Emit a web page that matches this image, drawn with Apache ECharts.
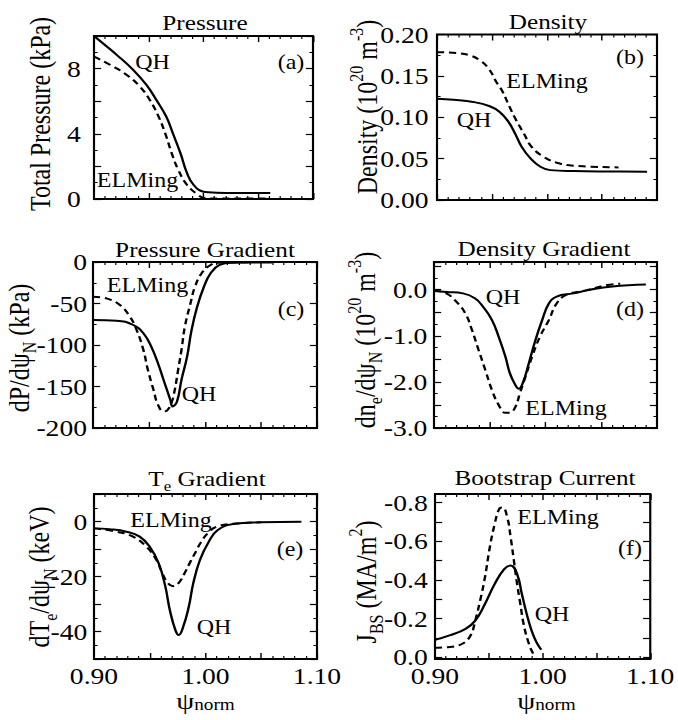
<!DOCTYPE html>
<html><head><meta charset="utf-8">
<script src="https://cdn.jsdelivr.net/npm/echarts@6/dist/echarts.min.js"></script>
<style>html,body{margin:0;padding:0;background:#fff;overflow:hidden}
#wrap{width:678px;height:720px;overflow:hidden}
#c{width:565px;height:720px;transform:scaleX(1.2);transform-origin:0 0}</style>
</head><body><div id="wrap"><div id="c"></div></div>
<script>
// ---------- data ----------
const xTickLabels = ['0.90', '1.00', '1.10'];
// (a) Pressure
const aPsiQH   = [0.900,0.910,0.921,0.936,0.948,0.957,0.966,0.972,0.979,0.985,0.991,1.000,1.012,1.030,1.061];
const aPresQH  = [10.0,9.45,8.83,7.91,6.99,6.07,5.05,4.03,2.80,1.58,0.86,0.45,0.39,0.37,0.37];
const aPsiELM  = [0.900,0.915,0.930,0.942,0.951,0.959,0.965,0.971,0.977,0.985,0.994,1.001,1.015,1.040,1.060];
const aPresELM = [8.73,8.22,7.61,6.89,6.07,5.05,4.03,2.80,1.78,0.86,0.31,0.06,0.03,0.03,0.03];
// (b) Density
const bPsiQH   = [0.900,0.915,0.933,0.948,0.957,0.965,0.971,0.977,0.985,0.994,1.003,1.024,1.060,1.091];
const bDenQH   = [0.1225,0.1212,0.1185,0.1133,0.1064,0.0944,0.0803,0.0642,0.0502,0.0402,0.0361,0.0349,0.0344,0.0341];
const bPsiELM  = [0.900,0.918,0.930,0.939,0.947,0.954,0.959,0.966,0.972,0.979,0.986,0.997,1.009,1.024,1.065];
const bDenELM  = [0.1787,0.1775,0.1747,0.1687,0.1587,0.1425,0.1325,0.1124,0.0964,0.0803,0.0642,0.0522,0.0450,0.0414,0.0394];
// (c) Pressure gradient
const cPsiQH   = [0.900,0.921,0.936,0.945,0.952,0.958,0.964,0.969,0.971,0.975,0.979,0.984,0.988,0.993,0.999,1.005,1.013,1.025,1.043,1.060];
const cGradQH  = [-70,-70.7,-75.9,-85.9,-102,-122,-146,-166,-174,-168,-142,-114,-82,-54,-30,-13.6,-3.6,-0.8,-0.5,-0.5];
const cPsiELM  = [0.900,0.912,0.924,0.933,0.939,0.945,0.949,0.954,0.958,0.963,0.966,0.970,0.973,0.976,0.979,0.982,0.987,0.991,0.997,1.005,1.013,1.040];
const cGradELM = [-41.8,-43.8,-51.8,-65.9,-82,-106,-130,-154,-172,-180,-179,-170,-154,-130,-106,-78,-50,-30,-13.6,-3.6,-0.8,-0.3];
// (d) Density gradient
const dPsiQH   = [0.900,0.911,0.926,0.937,0.944,0.952,0.958,0.964,0.968,0.973,0.976,0.980,0.985,0.991,0.997,1.003,1.010,1.025,1.040,1.060,1.090];
const dGradQH  = [-0.03,-0.05,-0.08,-0.19,-0.37,-0.66,-1.02,-1.45,-1.81,-2.07,-2.15,-2.00,-1.60,-1.09,-0.66,-0.30,-0.15,-0.08,0.00,0.07,0.11];
const dPsiELM  = [0.900,0.911,0.920,0.928,0.934,0.940,0.946,0.952,0.958,0.964,0.968,0.973,0.977,0.982,0.988,0.995,1.003,1.010,1.019,1.037,1.055,1.067];
const dGradELM = [-0.02,-0.08,-0.26,-0.51,-0.87,-1.31,-1.74,-2.18,-2.50,-2.67,-2.67,-2.54,-2.25,-1.89,-1.45,-1.02,-0.66,-0.30,-0.11,-0.01,0.10,0.13];
// (e) Te gradient
const ePsiQH   = [0.900,0.914,0.929,0.941,0.950,0.958,0.964,0.968,0.973,0.976,0.980,0.985,0.989,0.995,1.003,1.011,1.025,1.049,1.086];
const eGradQH  = [-2.5,-2.8,-3.7,-5.5,-9.2,-15.2,-23.7,-32.2,-39.5,-41.3,-38.3,-31.0,-22.5,-14.0,-7.3,-3.1,-0.9,-0.3,-0.1];
const ePsiELM  = [0.900,0.920,0.935,0.947,0.956,0.961,0.966,0.971,0.976,0.981,0.986,0.991,0.996,1.002,1.010,1.025,1.050];
const eGradELM = [-2.5,-3.7,-5.5,-9.2,-14.0,-18.5,-22.3,-23.5,-22.3,-19.0,-15.0,-11.2,-7.5,-4.3,-1.9,-0.8,-0.3];
// (f) Bootstrap current
const fPsiQH   = [0.900,0.9135,0.9284,0.9374,0.9464,0.9554,0.9643,0.9703,0.9763,0.9807,0.9852,0.9897,0.9942,0.9987];
const fJbsQH   = [-0.089,-0.112,-0.146,-0.189,-0.275,-0.378,-0.456,-0.475,-0.43,-0.327,-0.224,-0.138,-0.077,-0.038];
const fPsiELM  = [0.900,0.9135,0.9254,0.933,0.9374,0.9419,0.9464,0.9509,0.9554,0.9599,0.9628,0.9673,0.9703,0.9733,0.9763,0.9793,0.9823,0.9868,0.9913,0.9942];
const fJbsELM  = [-0.048,-0.052,-0.069,-0.112,-0.189,-0.292,-0.413,-0.568,-0.688,-0.770,-0.775,-0.72,-0.62,-0.50,-0.378,-0.275,-0.172,-0.077,-0.017,0.0];
const fTickLabels = [-0.8,-0.6,-0.4,-0.2,0.0];
const fTicks = [-0.8,-0.7,-0.6,-0.5,-0.4,-0.3,-0.2,-0.1,0.0];

// ---------- build ----------
const FONT = 'Liberation Serif';
const SX = 1.2; // horizontal stretch of the reference figure
const zip = (xs, ys) => xs.map((x, k) => [x, ys[k]]);
const near = (a, b) => Math.abs(a - b) < 1e-6;

const panels = [
  { g:[94,313,36,199], qh:zip(aPsiQH,aPresQH), elm:zip(aPsiELM,aPresELM),
    y:{min:0,max:10,interval:2,minor:2,margin:11,fmt:v=>(near(v%4,0)&&v<9.5)?String(Math.round(v)):''} },
  { g:[437,657,34.5,200], qh:zip(bPsiQH,bDenQH), elm:zip(bPsiELM,bDenELM),
    y:{min:0,max:0.2,interval:0.05,minor:2,margin:7,fmt:v=>v.toFixed(2)} },
  { g:[93,317,262,428], qh:zip(cPsiQH,cGradQH), elm:zip(cPsiELM,cGradELM),
    y:{min:-200,max:0,interval:50,minor:2,margin:5,fmt:v=>String(Math.round(v))} },
  { g:[434,657,262,428], qh:zip(dPsiQH,dGradQH), elm:zip(dPsiELM,dGradELM),
    y:{min:-3.0,max:0.6,interval:0.5,minor:2,margin:5.5,fmt:v=>near(v,Math.round(v))?Math.round(v).toFixed(1):''} },
  { g:[94,317,494,659], qh:zip(ePsiQH,eGradQH), elm:zip(ePsiELM,eGradELM), xl:true,
    y:{min:-50,max:10,interval:10,minor:2,margin:5.5,fmt:v=>{const r=Math.round(v);return (r<=0&&r%20===0)?String(r):'';}} },
  { g:[435,658,494,659], qh:zip(fPsiQH,fJbsQH), elm:zip(fPsiELM,fJbsELM), xl:true,
    y:{min:-0.845,max:0.01,inverse:true,custom:true,labels:fTickLabels,ticks:fTicks,margin:6,fmt:v=>v.toFixed(1)} }
];

const grid = [], xAxis = [], yAxis = [], series = [];
panels.forEach((p, i) => {
  const [l, r, t, b] = p.g;
  grid.push({ left: l / SX, top: t, width: (r - l) / SX, height: b - t,
    show: true, borderColor: '#000', borderWidth: 1.8, backgroundColor: 'transparent' });
  ['bottom', 'top'].forEach(pos => {
    xAxis.push({ type: 'value', gridIndex: i, position: pos, min: 0.9, max: 1.1, interval: 0.05,
      axisLine: { show: false, onZero: false }, splitLine: { show: false },
      axisTick: { show: true, inside: true, length: 6, lineStyle: { color: '#000', width: 1.2 } },
      minorTick: { show: true, splitNumber: 5, length: 3, lineStyle: { color: '#000', width: 1 } },
      axisLabel: { show: pos === 'bottom' && !!p.xl, color: '#000', fontFamily: FONT, fontSize: 23, margin: 8, lineHeight: 18,
        formatter: v => { const s = v.toFixed(2); return xTickLabels.includes(s) ? s : ''; } } });
  });
  ['left', 'right'].forEach(pos => {
    const y = p.y;
    const ax = { type: 'value', gridIndex: i, position: pos, min: y.min, max: y.max, inverse: !!y.inverse,
      axisLine: { show: false, onZero: false }, splitLine: { show: false },
      axisTick: { show: true, inside: true, length: 6, lineStyle: { color: '#000', width: 1.2 } },
      axisLabel: { show: pos === 'left', color: '#000', fontFamily: FONT, fontSize: 23, lineHeight: 16, margin: y.margin, formatter: y.fmt } };
    if (y.custom) { ax.axisTick.customValues = y.ticks; ax.axisLabel.customValues = y.labels; }
    else { ax.interval = y.interval; ax.minorTick = { show: true, splitNumber: y.minor, length: 3, lineStyle: { color: '#000', width: 1 } }; }
    yAxis.push(ax);
  });
  const common = { type: 'line', xAxisIndex: 2 * i, yAxisIndex: 2 * i, showSymbol: false, symbol: 'none',
    smooth: 0.45, silent: true, animation: false };
  series.push(Object.assign({}, common, { name: 'QH', data: p.qh, lineStyle: { color: '#000', width: 2, type: 'solid' } }));
  series.push(Object.assign({}, common, { name: 'ELMing', data: p.elm, lineStyle: { color: '#000', width: 2, type: [6, 4] } }));
});

function rich(f, lh) {
  const s = Math.round(f * 0.66);
  return {
    b: { fontSize: f, fontFamily: FONT, fill: '#000', lineHeight: lh || Math.round(f * 1.4) },
    sub: { fontSize: s, fontFamily: FONT, fill: '#000', verticalAlign: 'bottom' },
    sup: { fontSize: s, fontFamily: FONT, fill: '#000', verticalAlign: 'top' }
  };
}
function txt(X, y, text, size, rot, lh) {
  return { type: 'text', x: X / SX, y: y, rotation: rot || 0, silent: true,
    style: { text: text, fontFamily: FONT, fontSize: size, fill: '#000', align: 'center', verticalAlign: 'middle', rich: rich(size, lh) } };
}
const R = Math.PI / 2;
const graphic = [
  // panel titles
  txt(205, 22.7, '{b|Pressure}', 21),
  txt(548, 21.7, '{b|Density}', 21),
  txt(205, 249.7, '{b|Pressure Gradient}', 21),
  txt(544, 248.7, '{b|Density Gradient}', 21),
  txt(207, 478.7, '{b|T}{sub|e}{b| Gradient}', 21),
  txt(545, 477.7, '{b|Bootstrap Current}', 21),
  // y-axis titles
  txt(40.7, 114, '{b|Total Pressure (kPa)}', 24, R),
  txt(367, 107, '{b|Density (10}{sup|20}{b| m}{sup|-3}{b|)}', 24, R),
  txt(19, 348, '{b|dP/dψ}{sub|N}{b| (kPa)}', 24, R),
  txt(365, 340, '{b|dn}{sub|e}{b|/dψ}{sub|N}{b| (10}{sup|20}{b| m}{sup|-3}{b|)}', 24, R),
  txt(39.6, 577, '{b|dT}{sub|e}{b|/dψ}{sub|N}{b| (keV)}', 24, R),
  txt(366, 582, '{b|J}{sub|BS}{b| (MA/m}{sup|2}{b|)}', 24, R),
  // x-axis titles
  txt(205.5, 701, '{b|ψ}{sub|norm}', 24, 0, 24),
  txt(546.5, 701, '{b|ψ}{sub|norm}', 24, 0, 24),
  // in-plot labels
  txt(152.5, 62, '{b|QH}', 20), txt(291, 62, '{b|(a)}', 20), txt(137.5, 180, '{b|ELMing}', 20),
  txt(630, 57, '{b|(b)}', 20), txt(547, 81, '{b|ELMing}', 20), txt(474, 120, '{b|QH}', 20),
  txt(147.5, 285, '{b|ELMing}', 20), txt(291, 309, '{b|(c)}', 20), txt(199, 394, '{b|QH}', 20),
  txt(503, 297, '{b|QH}', 20), txt(630, 309, '{b|(d)}', 20), txt(566, 408, '{b|ELMing}', 20),
  txt(171, 520, '{b|ELMing}', 20), txt(290, 549, '{b|(e)}', 20), txt(214, 627, '{b|QH}', 20),
  txt(558, 517, '{b|ELMing}', 20), txt(630, 548, '{b|(f)}', 20), txt(552, 614, '{b|QH}', 20)
];

const chart = echarts.init(document.getElementById('c'), null, { renderer: 'svg' });
chart.setOption({ animation: false, backgroundColor: '#fff', grid, xAxis, yAxis, series, graphic });
</script></body></html>
